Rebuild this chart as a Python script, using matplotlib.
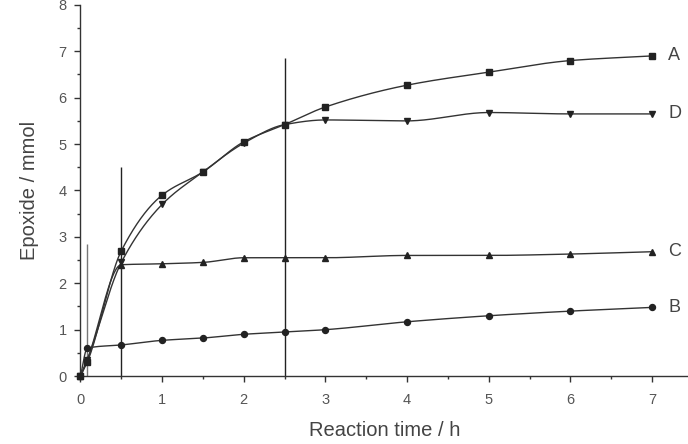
import numpy as np
import matplotlib
matplotlib.use("Agg")
import matplotlib.pyplot as plt
from matplotlib.ticker import MultipleLocator

plt.rcParams["font.family"] = ["Liberation Sans", "DejaVu Sans"]

# data
time_h = [0, 0.083, 0.5, 1, 1.5, 2, 2.5, 3, 4, 5, 6, 7]
series_a = [0, 0.30, 2.70, 3.90, 4.40, 5.05, 5.42, 5.80, 6.27, 6.55, 6.80, 6.90]
series_d = [0, 0.35, 2.45, 3.70, 4.40, 5.02, 5.42, 5.52, 5.50, 5.68, 5.65, 5.65]
series_c = [0, 0.35, 2.40, 2.42, 2.45, 2.55, 2.55, 2.55, 2.60, 2.60, 2.63, 2.68]
series_b = [0, 0.60, 0.67, 0.77, 0.82, 0.90, 0.95, 1.00, 1.17, 1.30, 1.40, 1.48]
series_names = ["A", "D", "C", "B"]
series_markers = ["s", "v", "^", "o"]

# drop lines (x, top)
drop_x = [0.083, 0.5, 2.5]
drop_top = [2.85, 4.5, 6.85]


def pchip(x, y, xs):
    # monotone cubic interpolation, numpy only
    x = np.asarray(x, float)
    y = np.asarray(y, float)
    h = np.diff(x)
    delta = np.diff(y) / h
    n = len(x)
    d = np.zeros(n)
    for k in range(1, n - 1):
        if delta[k - 1] * delta[k] > 0:
            w1 = 2 * h[k] + h[k - 1]
            w2 = h[k] + 2 * h[k - 1]
            d[k] = (w1 + w2) / (w1 / delta[k - 1] + w2 / delta[k])
    d[0] = delta[0]
    d[-1] = delta[-1]
    idx = np.clip(np.searchsorted(x, xs) - 1, 0, n - 2)
    t = (xs - x[idx]) / h[idx]
    h00 = 2 * t**3 - 3 * t**2 + 1
    h10 = t**3 - 2 * t**2 + t
    h01 = -2 * t**3 + 3 * t**2
    h11 = t**3 - t**2
    return h00 * y[idx] + h10 * h[idx] * d[idx] + h01 * y[idx + 1] + h11 * h[idx] * d[idx + 1]


fig = plt.figure(figsize=(6.88, 4.44), dpi=100)
ax = fig.add_axes([0.117, 0.153, 0.883, 0.836])

dark = "#222222"
xs = np.linspace(0, 7, 600)
all_series = [series_a, series_d, series_c, series_b]
for vals, name, mk in zip(all_series, series_names, series_markers):
    ax.plot(xs, pchip(time_h, vals, xs), color="#333333", lw=1.0, zorder=2)
    ax.plot(time_h, vals, ls="none", marker=mk, ms=4.3, color=dark,
            clip_on=False, zorder=3)
    ax.text(7.2, vals[-1], name, fontsize=13, color="#444444",
            ha="left", va="center")

ax.vlines(drop_x, 0, drop_top, colors=["#777777", dark, dark], lw=1.0, zorder=1)

ax.set_xlim(0, 7.44)
ax.set_ylim(0, 8)
ax.xaxis.set_major_locator(MultipleLocator(1))
ax.xaxis.set_minor_locator(MultipleLocator(0.5))
ax.yaxis.set_major_locator(MultipleLocator(1))
ax.yaxis.set_minor_locator(MultipleLocator(0.5))
ax.set_xticks(range(0, 8))

for s in ["top", "right"]:
    ax.spines[s].set_visible(False)
for s in ["left", "bottom"]:
    ax.spines[s].set_color("#333333")
    ax.spines[s].set_linewidth(1.0)

ax.tick_params(which="major", direction="out", length=4, width=1,
               color="#333333", labelsize=10.5, labelcolor="#555555")
ax.tick_params(axis="x", which="major", pad=8)
ax.tick_params(axis="y", which="major", pad=6)
ax.tick_params(which="minor", direction="out", length=2, width=1,
               color="#333333")

ax.set_xlabel("Reaction time / h", fontsize=14.5, color="#444444", labelpad=10)
ax.set_ylabel("Epoxide / mmol", fontsize=14.5, color="#444444", labelpad=14)

fig.savefig("out.png", dpi=100)
